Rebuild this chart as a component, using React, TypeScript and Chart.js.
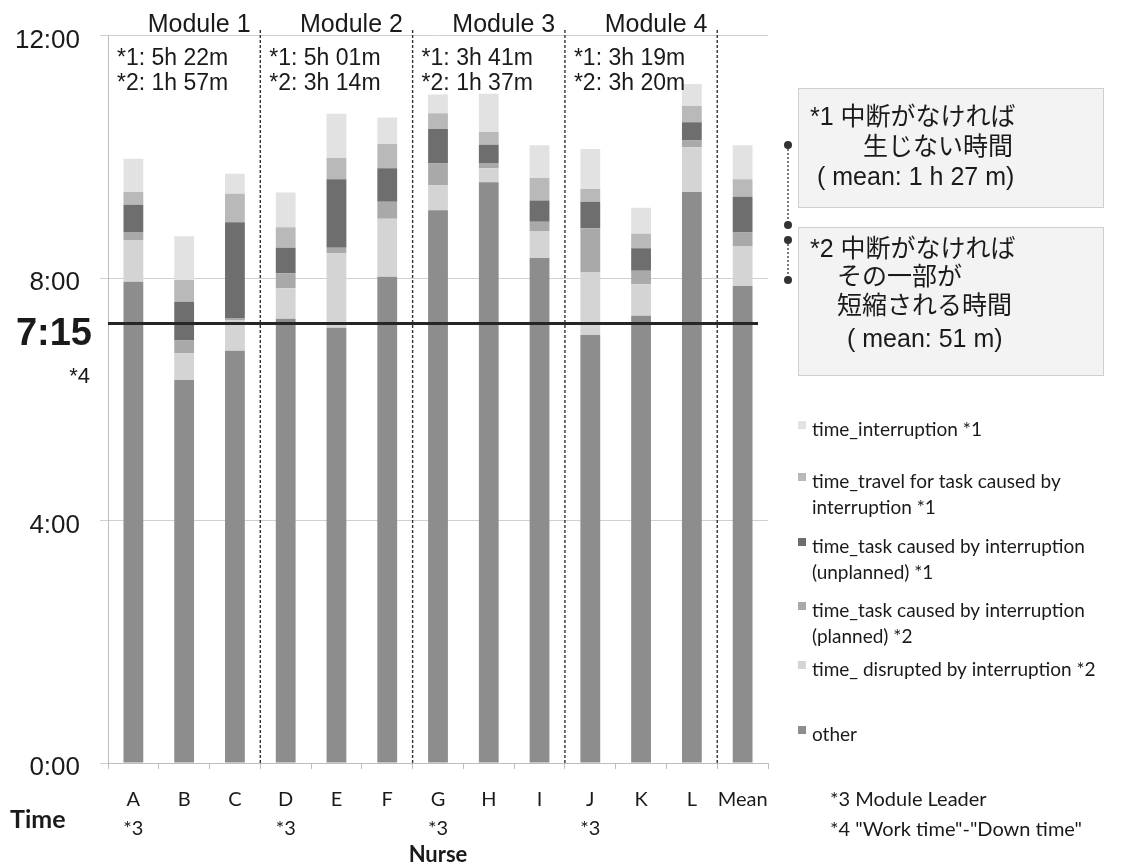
import React, { useEffect, useRef } from 'react';
import { Chart, registerables } from 'chart.js';

Chart.register(...registerables);

// ---- data (hours) ----
const nurses = ['A', 'B', 'C', 'D', 'E', 'F', 'G', 'H', 'I', 'J', 'K', 'L', 'Mean'];
const leaderMark = ['*3', '', '', '*3', '', '', '*3', '', '', '*3', '', '', ''];

const other = [7.94, 6.32, 6.80, 7.33, 7.18, 8.02, 9.12, 9.58, 8.33, 7.06, 7.38, 9.42, 7.87];
const disrupted = [0.69, 0.44, 0.51, 0.50, 1.23, 0.96, 0.41, 0.23, 0.44, 1.04, 0.52, 0.74, 0.65];
const planned = [0.13, 0.21, 0.03, 0.25, 0.09, 0.28, 0.36, 0.09, 0.16, 0.72, 0.22, 0.11, 0.23];
const unplanned = [0.45, 0.64, 1.58, 0.42, 1.13, 0.55, 0.57, 0.30, 0.35, 0.44, 0.37, 0.30, 0.59];
const travel = [0.21, 0.36, 0.47, 0.34, 0.35, 0.40, 0.26, 0.21, 0.37, 0.21, 0.24, 0.27, 0.29];
const interruption = [0.55, 0.72, 0.33, 0.57, 0.73, 0.44, 0.31, 0.63, 0.54, 0.66, 0.43, 0.36, 0.56];

// stacked bottom -> top
const seriesValues = [other, disrupted, planned, unplanned, travel, interruption];
const seriesLabels = [
  ['other'],
  ['time_ disrupted by interruption *2'],
  ['time_task caused by interruption', '(planned) *2'],
  ['time_task caused by interruption', '(unplanned) *1'],
  ['time_travel for task caused by', 'interruption *1'],
  ['time_interruption *1'],
];
const seriesColors = ['#8d8d8d', '#d4d4d4', '#a9a9a9', '#6e6e6e', '#b9b9b9', '#e2e2e2'];

const yTicks = [0, 4, 8, 12];
const workTime = 7.25;
const workTimeLabel = '7:15';
const workTimeNote = '*4';

const moduleNames = ['Module 1', 'Module 2', 'Module 3', 'Module 4'];
const moduleFirst = [0, 3, 6, 9];
const moduleLast = [2, 5, 8, 11];
const moduleNote1 = ['*1: 5h 22m', '*1: 5h 01m', '*1: 3h 41m', '*1: 3h 19m'];
const moduleNote2 = ['*2: 1h 57m', '*2: 3h 14m', '*2: 1h 37m', '*2: 3h 20m'];

const box1Lines = ['*1 中断がなければ', '生じない時間', '( mean: 1 h 27 m)'];
const box2Lines = ['*2 中断がなければ', 'その一部が', '短縮される時間', '( mean: 51 m)'];
const footNotes = ['*3 Module Leader', '*4 "Work time"-"Down time"'];

const SANS = '"Liberation Sans", Arial, "Noto Sans CJK JP", sans-serif';
const CAL = 'Lato, "Liberation Sans", sans-serif';

export default function App() {
  const ref = useRef<HTMLCanvasElement>(null);

  useEffect(() => {
    const canvas = ref.current;
    if (!canvas) return;

    const overlay = {
      id: 'overlay',
      afterDatasetsDraw(chart: any) {
        const { ctx, chartArea } = chart;
        const xs = chart.scales.x;
        const ys = chart.scales.y;
        ctx.save();
        // module separators
        ctx.strokeStyle = '#333';
        ctx.lineWidth = 1.4;
        ctx.setLineDash([3, 2]);
        moduleLast.forEach((li) => {
          const x = (xs.getPixelForValue(li) + xs.getPixelForValue(li + 1)) / 2;
          ctx.beginPath();
          ctx.moveTo(x, 30);
          ctx.lineTo(x, chartArea.bottom);
          ctx.stroke();
        });
        ctx.setLineDash([]);
        // work time line
        const wy = ys.getPixelForValue(workTime);
        ctx.strokeStyle = '#262626';
        ctx.lineWidth = 3;
        ctx.beginPath();
        ctx.moveTo(chartArea.left, wy);
        ctx.lineTo(chartArea.right - 10, wy);
        ctx.stroke();
        ctx.restore();
      },
      afterDraw(chart: any) {
        const { ctx, chartArea } = chart;
        const xs = chart.scales.x;
        const ys = chart.scales.y;
        ctx.save();
        ctx.fillStyle = '#1a1a1a';
        // work time label
        const wy = ys.getPixelForValue(workTime);
        ctx.textAlign = 'right';
        ctx.textBaseline = 'alphabetic';
        ctx.font = `bold 38px ${SANS}`;
        ctx.fillText(workTimeLabel, 92, wy + 21);
        ctx.font = `22px ${SANS}`;
        ctx.fillText(workTimeNote, 90, wy + 59);

        // module headers and notes
        const half = (xs.getPixelForValue(1) - xs.getPixelForValue(0)) / 2;
        moduleNames.forEach((name, m) => {
          const x0 = xs.getPixelForValue(moduleFirst[m]) - half;
          const x1 = xs.getPixelForValue(moduleLast[m]) + half;
          ctx.textAlign = 'center';
          ctx.font = `25px ${SANS}`;
          ctx.fillText(name, (x0 + x1) / 2 + 15, 32);
          ctx.textAlign = 'left';
          ctx.font = `23px ${SANS}`;
          ctx.fillText(moduleNote1[m], x0 + 9, 65);
          ctx.fillText(moduleNote2[m], x0 + 9, 90);
        });

        // text boxes
        ctx.fillStyle = '#f3f3f3';
        ctx.strokeStyle = '#cfcfcf';
        ctx.lineWidth = 1;
        ctx.fillRect(798, 88, 305, 119);
        ctx.strokeRect(798.5, 88.5, 305, 119);
        ctx.fillRect(798, 227, 305, 148);
        ctx.strokeRect(798.5, 227.5, 305, 148);
        ctx.fillStyle = '#1a1a1a';
        ctx.textAlign = 'left';
        ctx.textBaseline = 'middle';
        ctx.font = `25px ${SANS}`;
        const b1x = [810, 863, 817];
        const b1y = [118, 148, 178];
        box1Lines.forEach((t, i) => ctx.fillText(t, b1x[i], b1y[i]));
        const b2x = [810, 837, 837, 847];
        const b2y = [250, 278, 307, 340];
        box2Lines.forEach((t, i) => ctx.fillText(t, b2x[i], b2y[i]));

        // connector dots
        ctx.strokeStyle = '#333';
        ctx.lineWidth = 1.3;
        ctx.setLineDash([2, 2]);
        ctx.beginPath();
        ctx.moveTo(788, 145);
        ctx.lineTo(788, 225);
        ctx.moveTo(788, 240);
        ctx.lineTo(788, 280);
        ctx.stroke();
        ctx.setLineDash([]);
        ctx.fillStyle = '#333';
        [145, 225, 240, 280].forEach((y) => {
          ctx.beginPath();
          ctx.arc(788, y, 4, 0, Math.PI * 2);
          ctx.fill();
        });

        // legend (top -> bottom = reverse stack order)
        const legendY = [430, 482, 547, 611, 670, 735];
        ctx.font = `19px ${CAL}`;
        ctx.textBaseline = 'middle';
        for (let k = 0; k < seriesLabels.length; k++) {
          const idx = seriesLabels.length - 1 - k;
          const y = legendY[k];
          ctx.fillStyle = seriesColors[idx];
          ctx.fillRect(798, y - 9, 8, 8);
          ctx.fillStyle = '#1a1a1a';
          seriesLabels[idx].forEach((t, j) => ctx.fillText(t, 812, y + j * 26));
        }

        // footnotes
        ctx.font = `20px ${CAL}`;
        ctx.fillText(footNotes[0], 830, 800);
        ctx.fillText(footNotes[1], 830, 830);

        // "Time"
        ctx.font = `bold 25px ${CAL}`;
        ctx.fillText('Time', 10, 820);
        ctx.restore();
      },
    };

    const chart = new Chart(canvas, {
      type: 'bar',
      data: {
        labels: nurses.map((n, i) => (leaderMark[i] ? [n, leaderMark[i]] : n)),
        datasets: seriesValues.map((vals, i) => ({
          label: seriesLabels[i].join(' '),
          data: vals,
          backgroundColor: seriesColors[i],
          borderWidth: 0,
          barPercentage: 0.39,
          categoryPercentage: 1,
        })),
      },
      options: {
        responsive: false,
        animation: false,
        layout: { padding: { left: 0, top: 33, right: 375, bottom: 0 } },
        plugins: { legend: { display: false }, tooltip: { enabled: false } },
        scales: {
          x: {
            stacked: true,
            grid: { drawOnChartArea: false, tickLength: 6, color: '#bdbdbd' },
            border: { color: '#bdbdbd' },
            ticks: {
              font: { family: CAL, size: 20, lineHeight: 1.45 },
              color: '#1a1a1a',
              padding: 16,
              maxRotation: 0,
              autoSkip: false,
            },
            title: {
              display: true,
              text: 'Nurse',
              font: { family: CAL, size: 22, weight: 'bold' },
              color: '#1a1a1a',
              padding: 0,
            },
            afterFit: (s: any) => {
              s.height = 105;
            },
          },
          y: {
            stacked: true,
            min: 0,
            max: 12,
            afterBuildTicks: (s: any) => {
              s.ticks = yTicks.map((v) => ({ value: v }));
            },
            ticks: {
              callback: (v: any) => `${v}:00`,
              font: { family: SANS, size: 26 },
              color: '#1a1a1a',
              padding: 20,
              labelOffset: 5,
            },
            grid: { color: '#d0d0d0', tickLength: 8 },
            border: { color: '#bdbdbd' },
            afterFit: (s: any) => {
              s.width = 108;
            },
          },
        },
      },
      plugins: [overlay],
    });

    return () => chart.destroy();
  }, []);

  return (
    <div style={{ position: 'absolute', left: 0, top: 0, width: 1143, height: 868, background: '#fff' }}>
      <canvas ref={ref} width={1143} height={868} style={{ display: 'block' }} />
    </div>
  );
}
